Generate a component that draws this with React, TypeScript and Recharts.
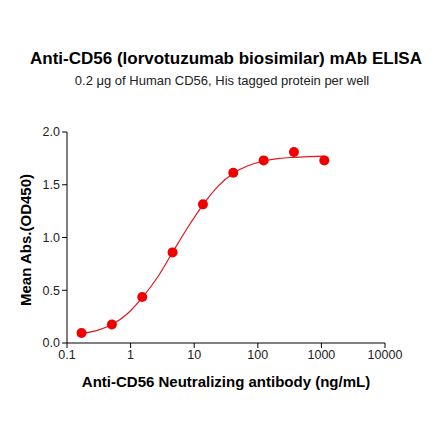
import React from 'react';
import { ComposedChart, Line, Scatter, XAxis, YAxis } from 'recharts';

// Concentrations (ng/mL) and mean absorbance
const concentrations = [0.169, 0.508, 1.524, 4.57, 13.72, 41.15, 123.5, 370.4, 1111.1];
const absorbance = [0.095, 0.176, 0.436, 0.859, 1.314, 1.614, 1.731, 1.81, 1.731];

// Fitted curve
const curveX = [0.169, 0.3, 0.508, 0.9, 1.524, 2.7, 4.57, 8, 13.72, 24, 41.15, 70, 123.5, 220, 370.4, 650, 1111.1];
const curveY = [0.09, 0.12, 0.175, 0.28, 0.43, 0.63, 0.86, 1.1, 1.31, 1.49, 1.61, 1.68, 1.725, 1.75, 1.76, 1.767, 1.772];

const xTicks = [0.1, 1, 10, 100, 1000, 10000];
const yTicks = [0, 0.5, 1, 1.5, 2];

const points = concentrations.map((x, i) => ({ x, y: absorbance[i] }));
const curve = curveX.map((x, i) => ({ x, y: curveY[i] }));

const font = '"Liberation Sans", Arial, sans-serif';

export default function App() {
  return (
    <div style={{ position: 'absolute', left: 0, top: 0, width: 440, height: 441, background: '#fff', fontFamily: font }}>
      <div style={{ position: 'absolute', top: 49, left: 0, width: 452, textAlign: 'center', fontSize: 17, fontWeight: 'bold', color: '#000', whiteSpace: 'nowrap' }}>
        Anti-CD56 (lorvotuzumab biosimilar) mAb ELISA
      </div>
      <div style={{ position: 'absolute', top: 73, left: 0, width: 444, textAlign: 'center', fontSize: 13, color: '#222', whiteSpace: 'nowrap' }}>
        0.2 μg of Human CD56, His tagged protein per well
      </div>
      <div
        style={{
          position: 'absolute',
          left: 25,
          top: 240,
          transform: 'translate(-50%, -50%) rotate(-90deg)',
          fontSize: 15,
          fontWeight: 'bold',
          color: '#000',
          whiteSpace: 'nowrap',
        }}
      >
        Mean Abs.(OD450)
      </div>
      <ComposedChart
        width={440}
        height={441}
        margin={{ top: 132, right: 55, bottom: 68, left: 20 }}
        style={{ position: 'absolute', left: 0, top: 0 }}
      >
        <XAxis
          type="number"
          dataKey="x"
          scale="log"
          domain={[0.1, 10000]}
          ticks={xTicks}
          allowDataOverflow
          tickFormatter={(v) => String(v)}
          tick={{ fontSize: 12.5, fill: '#222', fontFamily: font }}
          stroke="#000"
          tickSize={5}
          label={{ value: 'Anti-CD56 Neutralizing antibody (ng/mL)', position: 'insideBottom', offset: -14, fontSize: 15, fontWeight: 'bold', fill: '#000', fontFamily: font }}
        />
        <YAxis
          type="number"
          dataKey="y"
          domain={[0, 2]}
          ticks={yTicks}
          width={47}
          tickFormatter={(v) => v.toFixed(1)}
          tick={{ fontSize: 12.5, fill: '#222', fontFamily: font }}
          stroke="#000"
          tickSize={5}
        />
        <Line
          data={curve}
          dataKey="y"
          type="monotone"
          stroke="#e8141c"
          strokeWidth={1.2}
          dot={false}
          isAnimationActive={false}
        />
        <Scatter
          data={points}
          dataKey="y"
          fill="#f20000"
          shape={(p: any) => <circle cx={p.cx} cy={p.cy} r={5} fill="#f20000" />}
          isAnimationActive={false}
        />
      </ComposedChart>
    </div>
  );
}
